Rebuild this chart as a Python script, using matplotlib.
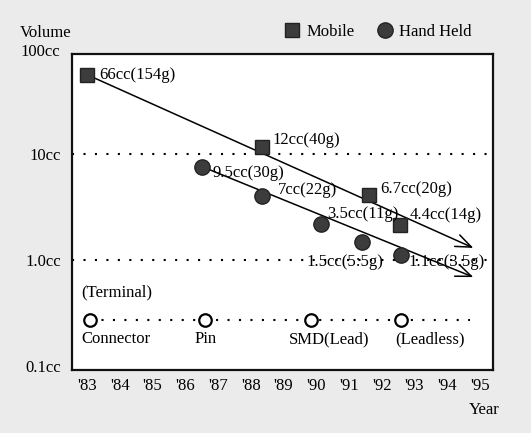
import matplotlib
matplotlib.use("Agg")
import matplotlib.pyplot as plt
from matplotlib.lines import Line2D

plt.rcParams['font.family'] = ['Liberation Serif', 'DejaVu Serif']
plt.rcParams['font.size'] = 12

# ---- data ----
year_ticks = [83, 84, 85, 86, 87, 88, 89, 90, 91, 92, 93, 94, 95]
year_labels = ["'83", "'84", "'85", "'86", "'87", "'88", "'89", "'90", "'91", "'92", "'93", "'94", "'95"]
vol_ticks = [0.1, 1.0, 10]
vol_labels = ["0.1cc", "1.0cc", "10cc"]

mobile_x = [83.0, 88.35, 91.6, 92.55]
mobile_y = [56, 11.6, 4.1, 2.15]
mobile_labels = ["66cc(154g)", "12cc(40g)", "6.7cc(20g)", "4.4cc(14g)"]

hand_x = [86.5, 88.35, 90.15, 91.4, 92.6]
hand_y = [7.5, 4.0, 2.2, 1.48, 1.11]
hand_labels = ["9.5cc(30g)", "7cc(22g)", "3.5cc(11g)", "1.5cc(5:5g)", "1.1cc(3.5g)"]

terminal_x = [83.1, 86.6, 89.85, 92.6]
terminal_y = [0.27, 0.27, 0.27, 0.27]
terminal_labels = ["Connector", "Pin", "SMD(Lead)", "(Leadless)"]
terminal_line_end = 94.7

mobile_trend = [(83.0, 56), (94.8, 1.30)]
hand_trend = [(86.65, 7.3), (94.8, 0.69)]

# ---- layout constants (pixel offsets) ----
mobile_off = [(12, 0), (10, 7), (12, 6), (10, 10)]
hand_off = [(11, -6), (16, 6), (6, 10), (-56, -20), (7, -7)]
term_off = [(-9, -19, 'left'), (1, -19, 'center'), (18, -19, 'center'), (29, -19, 'center')]

W, H = 531, 433
fig = plt.figure(figsize=(W / 100, H / 100), dpi=100, facecolor='#ebebeb')
ax = fig.add_axes([72 / W, 1 - 370 / H, (493 - 72) / W, (370 - 54) / H])
ax.set_facecolor('white')
ax.set_yscale('log')
ax.set_xlim(82.54, 95.4)
ax.set_ylim(0.0917, 87.8)

for s in ax.spines.values():
    s.set_linewidth(1.6)
    s.set_color('#111111')

ax.set_xticks(year_ticks)
ax.set_xticklabels(year_labels)
ax.set_yticks(vol_ticks)
ax.set_yticklabels(vol_labels)
ax.minorticks_off()
ax.tick_params(axis='both', length=0)
ax.tick_params(axis='y', pad=8)
ax.tick_params(axis='x', pad=6)

# dotted reference lines
for v in [10, 1.0]:
    ax.axhline(v, color='black', linestyle=(0, (1, 4.5)), linewidth=1.5)

# trend arrows
for (x0, y0), (x1, y1) in [mobile_trend, hand_trend]:
    ax.annotate('', xy=(x1, y1), xytext=(x0, y0),
                arrowprops=dict(arrowstyle='->,head_length=0.75,head_width=0.3',
                                mutation_scale=15, color='black', lw=1.1,
                                shrinkA=0, shrinkB=0))

# markers
ax.plot(mobile_x, mobile_y, linestyle='none', marker='s', markersize=10,
        markerfacecolor='#3c3c3c', markeredgecolor='#222222', zorder=5)
ax.plot(hand_x, hand_y, linestyle='none', marker='o', markersize=11,
        markerfacecolor='#3c3c3c', markeredgecolor='#222222', zorder=5)

for x, y, t, (dx, dy) in zip(mobile_x, mobile_y, mobile_labels, mobile_off):
    ax.annotate(t, (x, y), xytext=(dx, dy), textcoords='offset pixels',
                ha='left', va='center', zorder=6)
for x, y, t, (dx, dy) in zip(hand_x, hand_y, hand_labels, hand_off):
    ax.annotate(t, (x, y), xytext=(dx, dy), textcoords='offset pixels',
                ha='left', va='center', zorder=6)

# terminal row
ax.plot([terminal_x[0], terminal_line_end], [terminal_y[0], terminal_y[0]],
        color='black', linestyle=(0, (1, 4.5)), linewidth=1.5, zorder=3)
ax.plot(terminal_x, terminal_y, linestyle='none', marker='o', markersize=9,
        markerfacecolor='white', markeredgecolor='black', markeredgewidth=1.6, zorder=5)
for x, y, t, (dx, dy, ha) in zip(terminal_x, terminal_y, terminal_labels, term_off):
    ax.annotate(t, (x, y), xytext=(dx, dy), textcoords='offset pixels',
                ha=ha, va='center')
ax.annotate('(Terminal)', (terminal_x[0], terminal_y[0]), xytext=(-9, 28),
            textcoords='offset pixels', ha='left', va='center')

# outer texts
fig.text(20 / W, 1 - 33 / H, 'Volume', ha='left', va='center')
fig.text(20 / W, 1 - 52 / H, '100cc', ha='left', va='center')
fig.text(500 / W, 1 - 410 / H, 'Year', ha='right', va='center')

# legend
handles = [Line2D([], [], linestyle='none', marker='s', markersize=10,
                  markerfacecolor='#3c3c3c', markeredgecolor='#222222'),
           Line2D([], [], linestyle='none', marker='o', markersize=11,
                  markerfacecolor='#3c3c3c', markeredgecolor='#222222')]
fig.legend(handles, ['Mobile', 'Hand Held'], loc='center left',
           bbox_to_anchor=(284 / W, 1 - 32 / H), ncol=2, frameon=False,
           handlelength=1.0, handletextpad=0.35, columnspacing=1.3,
           borderpad=0, borderaxespad=0)

fig.savefig('out.png', dpi=100, facecolor=fig.get_facecolor())
